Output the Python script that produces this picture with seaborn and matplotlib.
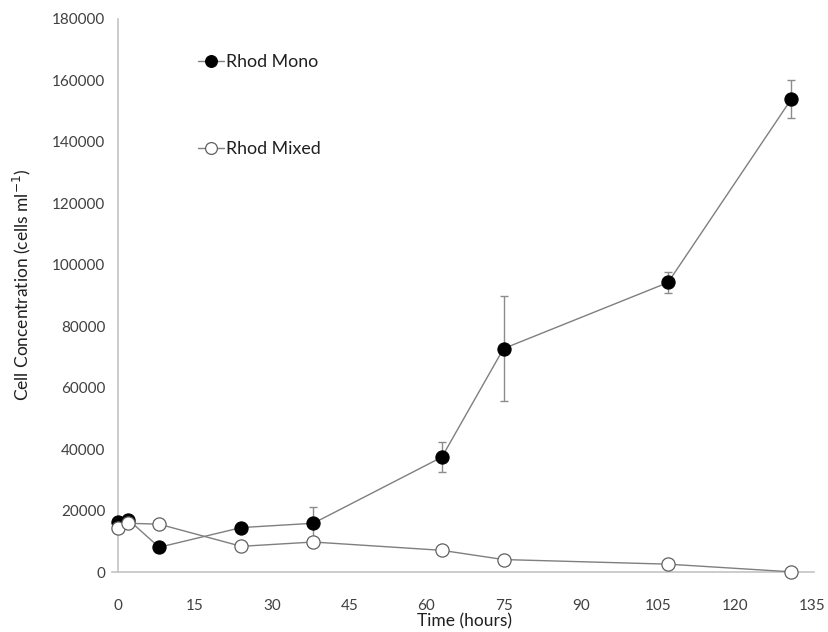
import matplotlib
matplotlib.use("Agg")
import matplotlib.pyplot as plt
import numpy as np
import pandas as pd
import seaborn as sns

# Sampling times (hours)
time_h = [0, 2, 8, 24, 38, 63, 75, 107, 131]

# Rhodomonas monoculture: mean cell concentration and error
rhod_mono = [16500, 17200, 8200, 14600, 16000, 37500, 72800, 94300, 154000]
rhod_mono_err = [800, 700, 1500, 1500, 5400, 4800, 17000, 3300, 6300]

# Rhodomonas in mixed culture
rhod_mixed = [14400, 16000, 15700, 8500, 9900, 7200, 4200, 2700, 200]

x_ticks = list(range(0, 136, 15))
y_ticks = list(range(0, 180001, 20000))

df = pd.DataFrame({
    "Time": time_h * 2,
    "Conc": rhod_mono + rhod_mixed,
    "Series": ["Rhod Mono"] * len(time_h) + ["Rhod Mixed"] * len(time_h),
})

sns.set_theme(style="white")
plt.rcParams["font.family"] = ["Lato", "DejaVu Sans"]

fig = plt.figure(figsize=(8.29, 6.32), dpi=100)
ax = fig.add_axes([0.1423, 0.0942, 0.8372, 0.8758])

line_col = "#7f7f7f"
axis_col = "#c4c4c4"
text_col = "#404040"

ax.errorbar(time_h, rhod_mono, yerr=rhod_mono_err, fmt="none",
            ecolor="#8c8c8c", elinewidth=1.0, capsize=3.2, capthick=1.0,
            zorder=1, clip_on=False)

mono_df = df[df["Series"] == "Rhod Mono"]
mixed_df = df[df["Series"] == "Rhod Mixed"]

sns.lineplot(data=mono_df, x="Time", y="Conc", ax=ax, color=line_col, lw=1.0,
             marker="o", markersize=9.5, markerfacecolor="black",
             markeredgecolor="black", markeredgewidth=0.8, label="Rhod Mono",
             zorder=3, clip_on=False)
sns.lineplot(data=mixed_df, x="Time", y="Conc", ax=ax, color=line_col, lw=1.0,
             marker="o", markersize=9.5, markerfacecolor="white",
             markeredgecolor="#606060", markeredgewidth=0.9, label="Rhod Mixed",
             zorder=3, clip_on=False)

ax.set_xlim(0, 135)
ax.set_ylim(0, 180000)
ax.set_xticks(x_ticks)
ax.set_yticks(y_ticks)
ax.set_yticklabels([str(v) for v in y_ticks])

for side in ["top", "right"]:
    ax.spines[side].set_visible(False)
for side in ["left", "bottom"]:
    ax.spines[side].set_color(axis_col)
    ax.spines[side].set_linewidth(1.2)
    ax.spines[side].set_zorder(0)

ax.tick_params(axis="both", which="major", direction="out", length=5,
               width=1.0, color=axis_col, labelsize=11, labelcolor=text_col,
               pad=4)
ax.tick_params(axis="x", pad=14)
ax.spines["bottom"].set_bounds(-1.2, 135.4)

ax.set_xlabel("Time (hours)", fontsize=12.5, color="#202020", labelpad=0)
ax.set_ylabel("Cell Concentration (cells ml$^{-1}$)", fontsize=12.5,
              color="#202020")
ax.yaxis.set_label_coords(-0.122, 0.52)
ax.grid(False)

leg = ax.legend(loc="upper left", bbox_to_anchor=(0.105, 0.95), frameon=False,
                fontsize=12.8, labelspacing=4.0, handlelength=1.45,
                handletextpad=0.15, borderaxespad=0)
for t in leg.get_texts():
    t.set_color("#202020")
for h in leg.legend_handles:
    h.set_markersize(8.5)

fig.savefig("out.png", dpi=100)
